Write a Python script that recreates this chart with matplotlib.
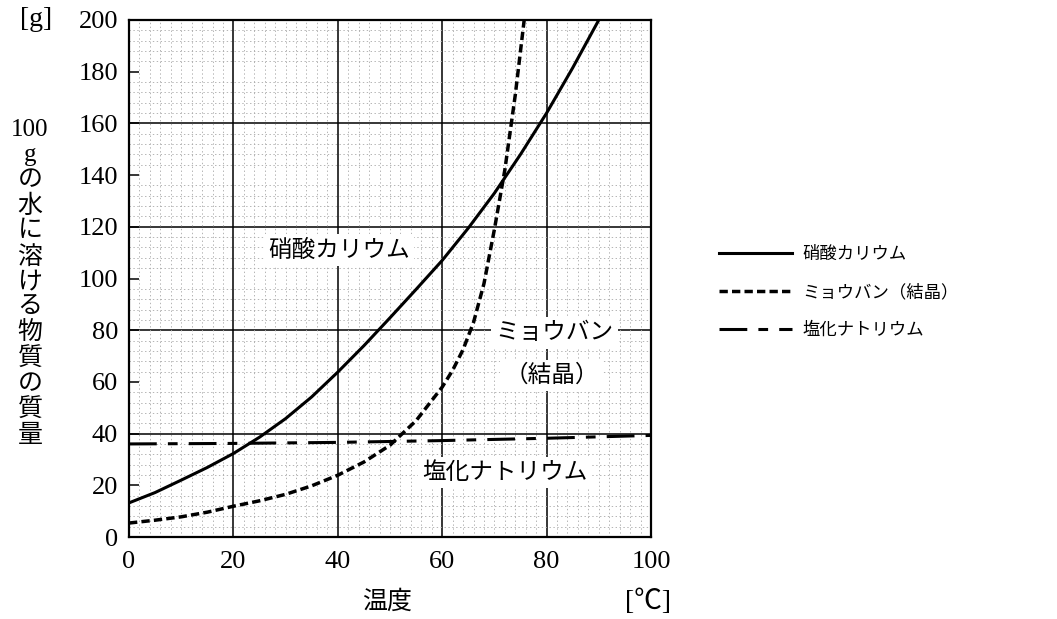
import matplotlib
matplotlib.use('Agg')
import matplotlib.pyplot as plt
import numpy as np
from matplotlib.ticker import MultipleLocator

plt.rcParams['lines.scale_dashes'] = False

# ---- data ----
temp_kno3 = [0, 5, 10, 15, 20, 25, 30, 35, 40, 45, 50, 55, 60, 65, 70, 75, 80, 85, 90]
sol_kno3 = [13.2, 17.2, 22.0, 26.9, 32.3, 38.6, 45.8, 54.2, 63.8, 74.0, 84.8, 95.8,
            107.0, 119.5, 133.0, 148.0, 164.0, 181.5, 200.0]

temp_alum = [0, 5, 10, 15, 20, 25, 30, 35, 40, 45, 50, 55, 60, 62, 64, 66, 68, 70, 72, 74, 76]
sol_alum = [5.4, 6.5, 7.8, 9.6, 11.9, 14.0, 16.5, 19.8, 23.9, 29.0, 35.5, 45.0, 58.0,
            64.5, 72.5, 83.0, 98.0, 119.0, 142.0, 171.0, 205.0]

temp_nacl = [0, 20, 40, 60, 80, 100]
sol_nacl = [36.0, 36.2, 36.6, 37.3, 38.2, 39.3]

series_names = ['硝酸カリウム', 'ミョウバン（結晶）', '塩化ナトリウム']
x_ticks = [0, 20, 40, 60, 80, 100]
y_ticks = [0, 20, 40, 60, 80, 100, 120, 140, 160, 180, 200]

JP = ['Noto Sans CJK JP', 'DejaVu Sans']
NUM = ['Liberation Serif', 'Noto Sans CJK JP', 'DejaVu Sans']

fig = plt.figure(figsize=(10.57, 6.19), dpi=100)
ax = fig.add_axes([129/1057, 1 - 537/619, 522/1057, 517/619])
ax.set_xlim(0, 100)
ax.set_ylim(0, 200)

# minor graph-paper grid
ax.xaxis.set_minor_locator(MultipleLocator(2))
ax.yaxis.set_minor_locator(MultipleLocator(4))
ax.grid(which='minor', color='#a8a8a8', linewidth=0.6, linestyle=(0, (1, 1.8)), zorder=0)
# major grid
for gx in np.arange(20, 100, 20):
    ax.axvline(gx, color='black', linewidth=1.1, zorder=1)
for gy in np.arange(40, 200, 40):
    ax.axhline(gy, color='black', linewidth=1.1, zorder=1)

ax.set_xticks(x_ticks)
ax.set_yticks(y_ticks)
ax.set_xticklabels([str(v) for v in x_ticks], fontfamily=NUM, fontsize=19)
ax.set_yticklabels([str(v) for v in y_ticks], fontfamily=NUM, fontsize=19)
ax.tick_params(axis='x', which='major', length=0, pad=10)
ax.tick_params(axis='y', which='major', direction='in', length=7, width=1.1, pad=8)
ax.tick_params(which='minor', length=0)
for s in ax.spines.values():
    s.set_linewidth(1.6)
    s.set_zorder(5)

# curves
l1, = ax.plot(temp_kno3, sol_kno3, color='black', linewidth=2.2, zorder=4,
              label=series_names[0])
l2, = ax.plot(temp_alum, sol_alum, color='black', linewidth=2.5, zorder=4,
              linestyle=(0, (6, 3)), label=series_names[1])
l3, = ax.plot(temp_nacl, sol_nacl, color='black', linewidth=2.2, zorder=4,
              linestyle=(0, (20, 8, 7, 8)), label=series_names[2])

# in-plot labels
box = dict(facecolor='white', edgecolor='none', pad=3)
ax.text(40.3, 111, '硝酸カリウム', fontfamily=JP, fontsize=17, ha='center', va='center',
        bbox=box, zorder=3)
ax.text(81.5, 79, 'ミョウバン', fontfamily=JP, fontsize=17, ha='center', va='center',
        bbox=box, zorder=3)
ax.text(81, 62.5, '（結晶）', fontfamily=JP, fontsize=17, ha='center', va='center',
        bbox=box, zorder=3)
ax.text(72, 25, '塩化ナトリウム', fontfamily=JP, fontsize=17, ha='center', va='center',
        bbox=box, zorder=3)

# axis labels
fig.text(36/1057, 1 - 20/619, '[g]', fontfamily=NUM, fontsize=20, ha='center', va='center')
fig.text(30/1057, 1 - 283/619, '100\ng\nの\n水\nに\n溶\nけ\nる\n物\n質\nの\n質\n量',
         fontfamily=NUM, fontsize=18, ha='center', va='center', linespacing=1.17,
         multialignment='center')
fig.text(387/1057, 1 - 602/619, '温度', fontfamily=JP, fontsize=18, ha='center', va='center')
fig.text(648/1057, 1 - 602/619, '[℃]', fontfamily=NUM, fontsize=20, ha='center', va='center')

# legend
leg = ax.legend(handles=[l1, l2, l3], loc='upper left', bbox_to_anchor=(1.13, 0.565),
                frameon=False, prop={'family': JP, 'size': 12.5}, handlelength=4.2,
                handletextpad=0.6, labelspacing=1.15, borderpad=0, borderaxespad=0)

fig.savefig('out.png', dpi=100, facecolor='white')
